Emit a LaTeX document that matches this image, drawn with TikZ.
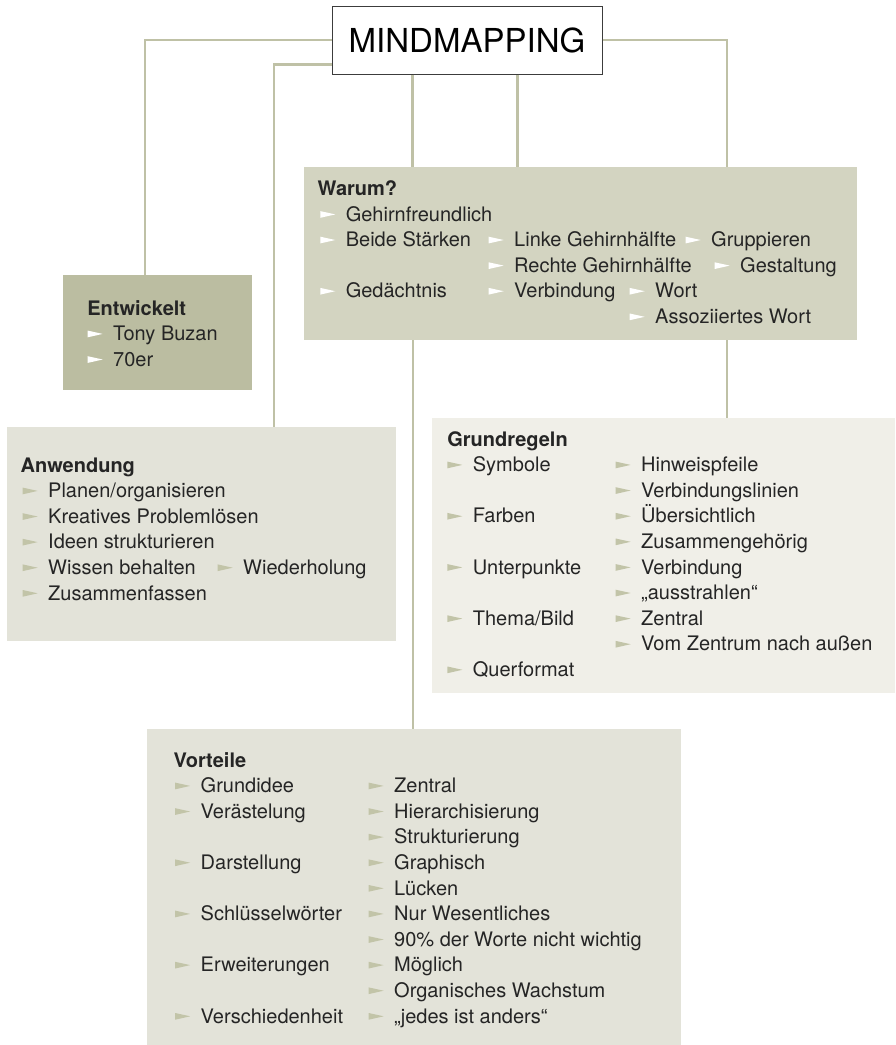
\documentclass[tikz,border=0pt]{standalone}
\usepackage{fontspec}
\setmainfont{TeX Gyre Heros}
\usepackage{tikz}
\usetikzlibrary{positioning,calc}

\definecolor{astfarbe}{HTML}{BFC1A6}
\definecolor{rahmen}{HTML}{3C3C3C}
\definecolor{entwfarbe}{HTML}{BBBDA1}
\definecolor{warumfarbe}{HTML}{D3D4C1}
\definecolor{mittel}{HTML}{E3E3D9}
\definecolor{hell}{HTML}{F0EFE8}
\definecolor{pfoliv}{HTML}{C2C4A8}
\definecolor{schrift}{HTML}{252525}
\colorlet{pfeil}{pfoliv}

% kleiner Pfeil vor jedem Punkt
\newcommand{\pfeil}{\tikz[baseline=0pt]\fill[pfeil] (0pt,3.3pt) -- (15pt,6.7pt) -- (0pt,10pt) -- cycle;}
\newcommand{\punkt}[1]{\pfeil\hspace{10.5pt}#1}
\newcommand{\spalte}[2]{\makebox[0pt][l]{\hspace{#1pt}#2}}

\begin{document}
\begin{tikzpicture}[x=1pt, y=-1pt,
    kasten/.style={anchor=north west, inner sep=0pt, outer sep=0pt},
    inhalt/.style={anchor=base west, inner sep=0pt, text=schrift, font=\fontsize{20}{25.6}\selectfont},
    weiss/.style={inhalt, execute at begin node=\colorlet{pfeil}{white}},
    ast/.style={draw=astfarbe, line width=2.6pt}]
    \useasboundingbox (0,0) rectangle (895,1045);

    % Kaesten
    \node[draw=rahmen, line width=1pt, fill=white, minimum width=270, minimum height=68,
          font=\fontsize{33}{40}\selectfont, text=black] (titel) at (467,40) {MINDMAPPING};
    \node[kasten, fill=entwfarbe, minimum width=189, minimum height=115] (entw) at (63,275) {};
    \node[kasten, fill=warumfarbe, minimum width=553, minimum height=173] (warum) at (304,167) {};
    \node[kasten, fill=mittel, minimum width=389, minimum height=214] (anw) at (7,427) {};
    \node[kasten, fill=hell, minimum width=463, minimum height=275] (grund) at (432,418) {};
    \node[kasten, fill=mittel, minimum width=534, minimum height=316] (vort) at (147,729) {};

    % Aeste
    \coordinate (t2) at ($(titel.south west)+(0,-10)$);
    \coordinate (a1) at ($(titel.south west)+(81,0)$);
    \coordinate (a2) at ($(titel.south west)+(186,0)$);
    \coordinate (b1) at ($(warum.south west)+(109,0)$);
    \coordinate (b2) at ($(warum.south west)+(423,0)$);
    \draw[ast] (titel.west) -| ($(entw.north west)+(82,0)$);
    \draw[ast] (t2) -| ($(anw.north west)+(267,0)$);
    \draw[ast] (titel.east) -| ($(warum.north west)+(423,0)$);
    \draw[ast] (a1) -- (a1 |- warum.north);
    \draw[ast] (a2) -- (a2 |- warum.north);
    \draw[ast] (b1) -- (b1 |- vort.north);
    \draw[ast] (b2) -- (b2 |- grund.north);

    % Texte
    \node[weiss] (entwtxt) at ($(entw.north west)+(23.7,40)$) {\begin{tabular}[t]{@{}l@{}}
        \spalte{0}{\textbf{Entwickelt}}\\
        \spalte{0.3}{\punkt{Tony Buzan}}\\
        \spalte{0.3}{\punkt{70er}}
    \end{tabular}};

    \node[weiss] (warumtxt) at ($(warum.north west)+(13,28.5)$) {\begin{tabular}[t]{@{}l@{}}
        \spalte{0}{\textbf{Warum?}}\\
        \spalte{2.6}{\punkt{Gehirnfreundlich}}\\
        \spalte{2.6}{\punkt{Beide Stärken}}\spalte{171}{\punkt{Linke Gehirnhälfte}}\spalte{368}{\punkt{Gruppieren}}\\
        \spalte{171}{\punkt{Rechte Gehirnhälfte}}\spalte{397}{\punkt{Gestaltung}}\\
        \spalte{2.6}{\punkt{Gedächtnis}}\spalte{171}{\punkt{Verbindung}}\spalte{312}{\punkt{Wort}}\\
        \spalte{312}{\punkt{Assoziiertes Wort}}
    \end{tabular}};

    \node[inhalt] (anwtxt) at ($(anw.north west)+(13,45)$) {\begin{tabular}[t]{@{}l@{}}
        \spalte{0}{\textbf{Anwendung}}\\
        \spalte{2}{\punkt{Planen/organisieren}}\\
        \spalte{2}{\punkt{Kreatives Problemlösen}}\\
        \spalte{2}{\punkt{Ideen strukturieren}}\\
        \spalte{2}{\punkt{Wissen behalten}}\spalte{197}{\punkt{Wiederholung}}\\
        \spalte{2}{\punkt{Zusammenfassen}}
    \end{tabular}};

    \node[inhalt] (grundtxt) at ($(grund.north west)+(14.7,28)$) {\begin{tabular}[t]{@{}l@{}}
        \spalte{0}{\textbf{Grundregeln}}\\
        \spalte{0}{\punkt{Symbole}}\spalte{168.3}{\punkt{Hinweispfeile}}\\
        \spalte{168.3}{\punkt{Verbindungslinien}}\\
        \spalte{0}{\punkt{Farben}}\spalte{168.3}{\punkt{Übersichtlich}}\\
        \spalte{168.3}{\punkt{Zusammengehörig}}\\
        \spalte{0}{\punkt{Unterpunkte}}\spalte{168.3}{\punkt{Verbindung}}\\
        \spalte{168.3}{\punkt{„ausstrahlen“}}\\
        \spalte{0}{\punkt{Thema/Bild}}\spalte{168.3}{\punkt{Zentral}}\\
        \spalte{168.3}{\punkt{Vom Zentrum nach außen}}\\
        \spalte{0}{\punkt{Querformat}}
    \end{tabular}};

    \node[inhalt] (vorttxt) at ($(vort.north west)+(25.8,38)$) {\begin{tabular}[t]{@{}l@{}}
        \spalte{0}{\textbf{Vorteile}}\\
        \spalte{1.7}{\punkt{Grundidee}}\spalte{195.2}{\punkt{Zentral}}\\
        \spalte{1.7}{\punkt{Verästelung}}\spalte{195.2}{\punkt{Hierarchisierung}}\\
        \spalte{195.2}{\punkt{Strukturierung}}\\
        \spalte{1.7}{\punkt{Darstellung}}\spalte{195.2}{\punkt{Graphisch}}\\
        \spalte{195.2}{\punkt{Lücken}}\\
        \spalte{1.7}{\punkt{Schlüsselwörter}}\spalte{195.2}{\punkt{Nur Wesentliches}}\\
        \spalte{195.2}{\punkt{90\% der Worte nicht wichtig}}\\
        \spalte{1.7}{\punkt{Erweiterungen}}\spalte{195.2}{\punkt{Möglich}}\\
        \spalte{195.2}{\punkt{Organisches Wachstum}}\\
        \spalte{1.7}{\punkt{Verschiedenheit}}\spalte{195.2}{\punkt{„jedes ist anders“}}
    \end{tabular}};
\end{tikzpicture}
\end{document}
